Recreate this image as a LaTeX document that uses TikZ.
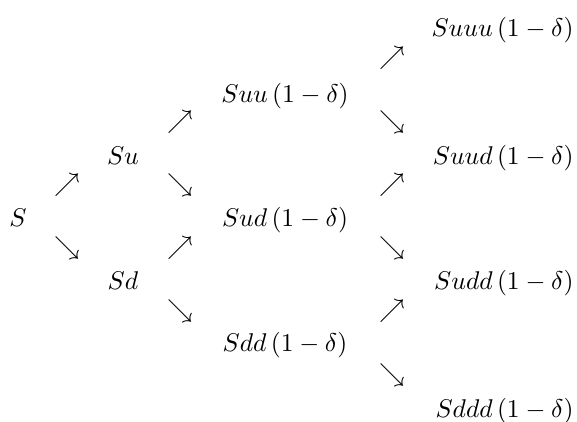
\documentclass[tikz,border=0pt]{standalone}
\begin{document}
\begin{tikzpicture}[x=0.39pt,y=-0.39pt,
  lbl/.style={inner sep=0pt,anchor=base},
  lblr/.style={inner sep=0pt,anchor=base east},
  arr/.style={inner sep=0pt,anchor=center}]
\useasboundingbox (0,0) rectangle (577,421);
% column 1
\node[lbl] (s) at (18,226) {$S$};
% column 2
\node[lbl] (su) at (123,164) {$Su$};
\node[lbl] (sd) at (123,289) {$Sd$};
% column 3
\node[lbl] (suu) at (285,102) {$Suu\,(1-\delta)$};
\node[lbl] (sud) at (285,226) {$Sud\,(1-\delta)$};
\node[lbl] (sdd) at (285,351) {$Sdd\,(1-\delta)$};
% column 4
\node[lblr] (suuu) at (574,36) {$Suuu\,(1-\delta)$};
\node[lblr] (suud) at (574,164) {$Suud\,(1-\delta)$};
\node[lblr] (sudd) at (574,289) {$Sudd\,(1-\delta)$};
\node[lblr] (sddd) at (574,417) {$Sddd\,(1-\delta)$};
% arrows
\node[arr] (a1) at (67,185) {$\nearrow$};
\node[arr] (a2) at (67,248) {$\searrow$};
\node[arr] (a3) at (180,122) {$\nearrow$};
\node[arr] (a4) at (180,185) {$\searrow$};
\node[arr] (a5) at (180,248) {$\nearrow$};
\node[arr] (a6) at (180,311) {$\searrow$};
\node[arr] (a7) at (392,58) {$\nearrow$};
\node[arr] (a8) at (392,122) {$\searrow$};
\node[arr] (a9) at (392,185) {$\nearrow$};
\node[arr] (a10) at (392,248) {$\searrow$};
\node[arr] (a11) at (392,311) {$\nearrow$};
\node[arr] (a12) at (392,375) {$\searrow$};
\end{tikzpicture}
\end{document}
